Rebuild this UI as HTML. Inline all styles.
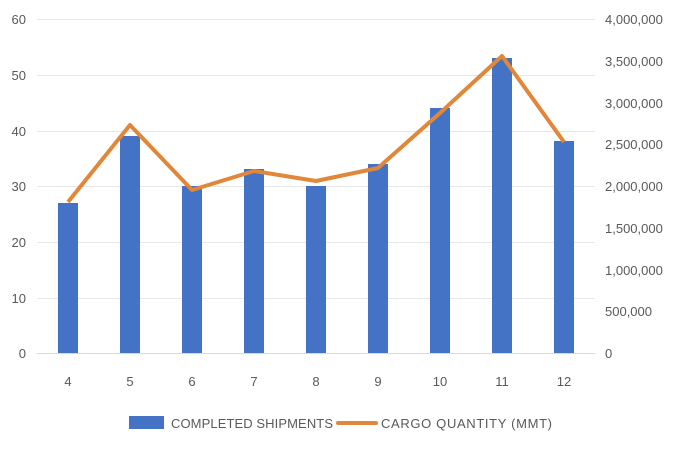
<!DOCTYPE html>
<html><head><style>body{margin:0;background:#fff}svg{display:block}text{font-family:"Liberation Sans",sans-serif;font-size:13px;fill:#595959}</style></head><body>
<svg width="683" height="450" xmlns="http://www.w3.org/2000/svg">
<g stroke="#e6e6e6" stroke-width="1">
<line x1="37" x2="595" y1="19.5" y2="19.5"/><line x1="37" x2="595" y1="75.5" y2="75.5"/><line x1="37" x2="595" y1="131.5" y2="131.5"/><line x1="37" x2="595" y1="186.5" y2="186.5"/><line x1="37" x2="595" y1="242.5" y2="242.5"/><line x1="37" x2="595" y1="298.5" y2="298.5"/>
</g>
<line x1="37" x2="595" y1="353.5" y2="353.5" stroke="#d9d9d9"/>
<g text-anchor="end"><text x="26" y="24">60</text><text x="26" y="80">50</text><text x="26" y="136">40</text><text x="26" y="191">30</text><text x="26" y="247">20</text><text x="26" y="303">10</text><text x="26" y="358">0</text></g>
<g><text x="605" y="24">4,000,000</text><text x="605" y="66">3,500,000</text><text x="605" y="108">3,000,000</text><text x="605" y="149">2,500,000</text><text x="605" y="191">2,000,000</text><text x="605" y="233">1,500,000</text><text x="605" y="275">1,000,000</text><text x="605" y="316">500,000</text><text x="605" y="358">0</text></g>
<g fill="#4472c4">
<rect x="58" y="203" width="20" height="150"/><rect x="120" y="136" width="20" height="217"/><rect x="182" y="186" width="20" height="167"/><rect x="244" y="169" width="20" height="184"/><rect x="306" y="186" width="20" height="167"/><rect x="368" y="164" width="20" height="189"/><rect x="430" y="108" width="20" height="245"/><rect x="492" y="58" width="20" height="295"/><rect x="554" y="141" width="20" height="212"/>
</g>
<polyline fill="none" stroke="#e0873a" stroke-width="4" stroke-linejoin="round" points="68,202 130,125 192,190 254,171 316,181 378,168 440,113 502,56 564,142"/>
<g text-anchor="middle" font-size="14"><text x="68" y="386">4</text><text x="130" y="386">5</text><text x="192" y="386">6</text><text x="254" y="386">7</text><text x="316" y="386">8</text><text x="378" y="386">9</text><text x="440" y="386">10</text><text x="502" y="386">11</text><text x="564" y="386">12</text></g>
<rect x="129" y="416" width="35" height="13" fill="#4472c4"/>
<text x="171" y="428" textLength="162">COMPLETED SHIPMENTS</text>
<line x1="338" x2="376" y1="423" y2="423" stroke="#e0873a" stroke-width="4" stroke-linecap="round"/>
<text x="381" y="428" textLength="171">CARGO QUANTITY (MMT)</text>
</svg>
</body></html>
